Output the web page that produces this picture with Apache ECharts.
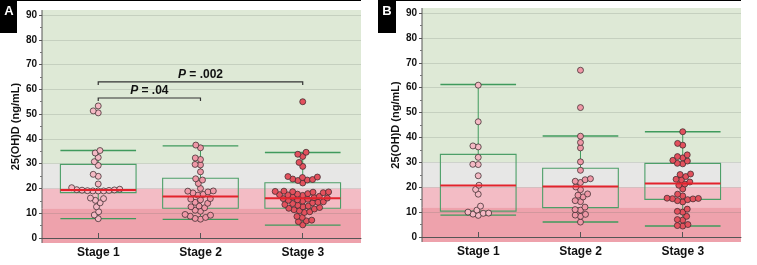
<!DOCTYPE html>
<html>
<head>
<meta charset="utf-8">
<script src="https://cdn.jsdelivr.net/npm/echarts@6.0.0/dist/echarts.min.js"></script>
<style>
  html, body { margin: 0; padding: 0; background: #fff; }
  #chart { width: 757px; height: 265px; }
</style>
</head>
<body>
<div id="chart"></div>
<script>
// values (ng/mL)
const stages = ["Stage 1", "Stage 2", "Stage 3"];

const aStage1 = [53.3, 51.3, 50.5, 35.3, 34.3, 32.5, 30.8, 29.3, 25.7, 24.9, 21.8, 20.3,
  19.7, 19.5, 19.4, 19.3, 19.2, 19.1, 19.0, 19.0, 19.0, 16.1, 15.9, 15.2, 14.2, 12.6, 10.6, 9.3, 7.8];
const aStage2 = [37.5, 36.4, 32.3, 31.7, 29.7, 29.5, 26.7, 23.9, 23.4, 22.0, 20.0, 19.0, 18.9,
  18.6, 18.2, 17.6, 17.3, 15.9, 15.7, 15.4, 14.4, 14.0, 12.9, 12.6, 12.2, 11.2, 10.8, 9.5, 9.2,
  8.8, 8.3, 7.9, 7.6];
const aStage3 = [55.0, 34.6, 33.8, 32.9, 30.5, 28.9, 24.8, 24.6, 24.4, 23.8, 23.6, 23.4, 23.2,
  22.2, 18.9, 18.8, 18.7, 18.6, 18.5, 18.3, 17.9, 17.7, 17.5, 17.4, 17.2, 16.8, 16.5, 16.3, 16.1,
  15.9, 15.6, 15.4, 15.2, 14.9, 14.6, 14.4, 14.2, 13.9, 13.5, 13.2, 12.9, 12.6, 12.3, 12.0, 11.7,
  11.4, 11.0, 10.6, 10.3, 8.7, 8.3, 7.2, 6.9, 6.6, 5.3];

const bStage1 = [61.0, 46.3, 36.6, 36.2, 32.0, 29.2, 29.1, 24.6, 20.8, 19.1, 17.2, 12.4, 10.8,
  10.0, 9.6, 9.5, 9.2, 8.7];
const bStage2 = [67.0, 52.0, 40.5, 38.0, 35.8, 30.2, 26.8, 23.4, 23.0, 22.4, 21.9, 20.1, 19.0,
  17.3, 16.8, 16.1, 14.6, 14.2, 12.0, 11.0, 10.8, 9.1, 8.8, 8.3, 6.0];
const bStage3 = [42.3, 37.6, 36.9, 33.0, 32.3, 31.8, 30.8, 30.5, 29.6, 29.4, 25.3, 25.1, 24.3,
  23.2, 23.0, 22.1, 21.3, 20.8, 19.3, 17.2, 16.5, 15.6, 15.5, 15.4, 15.3, 15.0, 14.6, 14.1, 11.2,
  10.3, 10.0, 8.3, 7.0, 6.8, 5.0, 4.6, 4.4];

// [min, q1, median, q3, max] per stage
const aBox = [[7.8, 18.3, 19.4, 29.7, 35.3], [7.5, 12.0, 16.7, 24.1, 37.2], [5.2, 12.0, 16.0, 22.3, 34.5]];
const bBox = [[8.8, 10.4, 20.7, 33.2, 61.3], [6.0, 11.8, 20.3, 27.6, 40.6], [4.4, 15.1, 21.5, 29.6, 42.3]];

// reference bands (lower, upper)
const bandLow = [-2, 12, 20, 30];
const bandHigh = [12, 20, 30, 92];

// significance brackets, panel A
const bracketFrom = [1, 1];
const bracketTo = [2, 3];
const bracketY = [56.5, 63.0];
const bracketText = [".04", ".002"];

const bandColors = ["#eea2ac", "#f3bcc5", "#e7e7e6", "#dee9d6"];
const dotColors = ["#f4b9c4", "#ef98a7", "#e3515d"];
const font = "'Liberation Sans', Arial, Helvetica, sans-serif";

const grids = [
  { left: 42, top: 15, width: 319, height: 223 },
  { left: 422, top: 13, width: 319, height: 224 }
];
const xMin = 0.45, xMax = 3.57;

// simple beeswarm: put each dot as close to the centre as it can go without overlap
function swarm(values, center, xk, yk, d) {
  const placed = [];
  const out = [];
  const sorted = values.slice().sort((a, b) => a - b);
  sorted.forEach(v => {
    const py = v * yk;
    const blocked = [];
    placed.forEach(p => {
      const dy = Math.abs(p.py - py);
      if (dy < d) {
        const w = Math.sqrt(d * d - dy * dy);
        blocked.push([p.px - w, p.px + w]);
      }
    });
    const cands = [0];
    blocked.forEach(b => cands.push(b[0], b[1]));
    cands.sort((a, b) => Math.abs(a) - Math.abs(b));
    let px = 0;
    for (const c of cands) {
      if (blocked.every(b => c <= b[0] + 1e-6 || c >= b[1] - 1e-6)) { px = c; break; }
    }
    placed.push({ px, py });
    out.push([center + px / xk, v]);
  });
  return out;
}

function bandSeries(i) {
  return {
    type: "custom", xAxisIndex: i, yAxisIndex: i, z: 0, silent: true,
    data: bandLow.map((lo, k) => [k, lo, bandHigh[k]]),
    renderItem: function (params, api) {
      const cs = params.coordSys;
      const top = api.coord([1, api.value(2)])[1];
      const bot = api.coord([1, api.value(1)])[1];
      return {
        type: "group",
        children: [
          { type: "rect", shape: { x: cs.x, y: top, width: cs.width, height: bot - top },
            style: { fill: bandColors[params.dataIndex] } },
          { type: "line", shape: { x1: cs.x, y1: top, x2: cs.x, y2: bot },
            style: { stroke: "#555", lineWidth: 1 } }
        ]
      };
    }
  };
}

function boxSeries(i, box) {
  return {
    type: "custom", xAxisIndex: i, yAxisIndex: i, z: 2, silent: true,
    data: box.map((b, k) => [k + 1].concat(b)),
    renderItem: function (params, api) {
      const s = api.value(0), hw = 0.37;
      const l = api.coord([s - hw, 0])[0], r = api.coord([s + hw, 0])[0];
      const c = api.coord([s, 0])[0];
      const yMin = api.coord([s, api.value(1)])[1];
      const yQ1 = api.coord([s, api.value(2)])[1];
      const yQ3 = api.coord([s, api.value(4)])[1];
      const yMax = api.coord([s, api.value(5)])[1];
      const green = "#3f9a5c";
      return {
        type: "group",
        children: [
          { type: "line", shape: { x1: c, y1: yQ3, x2: c, y2: yMax }, style: { stroke: green, lineWidth: 1 } },
          { type: "line", shape: { x1: c, y1: yQ1, x2: c, y2: yMin }, style: { stroke: green, lineWidth: 1 } },
          { type: "line", shape: { x1: l, y1: yMax, x2: r, y2: yMax }, style: { stroke: green, lineWidth: 1.4 } },
          { type: "line", shape: { x1: l, y1: yMin, x2: r, y2: yMin }, style: { stroke: green, lineWidth: 1.4 } },
          { type: "rect", shape: { x: l, y: yQ3, width: r - l, height: yQ1 - yQ3 },
            style: { fill: "none", stroke: "#4d9f68", lineWidth: 1.1 } }
        ]
      };
    }
  };
}

function medianSeries(i, box) {
  return {
    type: "custom", xAxisIndex: i, yAxisIndex: i, z: 5, silent: true,
    data: box.map((b, k) => [k + 1, b[2]]),
    renderItem: function (params, api) {
      const s = api.value(0), hw = 0.37;
      const p1 = api.coord([s - hw, api.value(1)]);
      const p2 = api.coord([s + hw, api.value(1)]);
      return { type: "line", shape: { x1: p1[0], y1: p1[1], x2: p2[0], y2: p2[1] },
        style: { stroke: "#e3232c", lineWidth: 2 } };
    }
  };
}

function dotSeries(i, lists) {
  const g = grids[i];
  const xk = g.width / (xMax - xMin);
  const yk = g.height / 90;
  return lists.map((vals, k) => ({
    type: "scatter", xAxisIndex: i, yAxisIndex: i, z: 4, silent: true,
    symbolSize: 6,
    itemStyle: { color: dotColors[k], borderColor: "#3b2b2d", borderWidth: 0.75, opacity: 1 },
    data: swarm(vals, k + 1, xk, yk, 5.4)
  }));
}

const bracketSeries = {
  type: "custom", xAxisIndex: 0, yAxisIndex: 0, z: 5, silent: true,
  data: bracketY.map((y, k) => [bracketFrom[k], bracketTo[k], y]),
  renderItem: function (params, api) {
    const p1 = api.coord([api.value(0), api.value(2)]);
    const p2 = api.coord([api.value(1), api.value(2)]);
    return {
      type: "group",
      children: [
        { type: "polyline",
          shape: { points: [[p1[0], p1[1] + 3], [p1[0], p1[1]], [p2[0], p2[1]], [p2[0], p2[1] + 3]] },
          style: { stroke: "#333", lineWidth: 1.2, fill: "none" } },
        { type: "text", x: (p1[0] + p2[0]) / 2, y: p1[1] - 1,
          style: {
            text: "{i|P} = " + bracketText[params.dataIndex],
            align: "center", verticalAlign: "bottom",
            font: "bold 12px " + font, fill: "#111",
            rich: { i: { fontStyle: "italic", fontWeight: "bold", fontSize: 12, fontFamily: font } }
          } }
      ]
    };
  }
};

function xAxis(i) {
  return {
    type: "value", gridIndex: i, min: xMin, max: xMax, offset: 5, z: 1,
    axisLine: { lineStyle: { color: "#555", width: 1 } },
    axisTick: { customValues: [1, 2, 3], inside: true, length: 5, lineStyle: { color: "#555" } },
    axisLabel: {
      customValues: [1, 2, 3], margin: 4, color: "#111", fontSize: 12, fontWeight: "bold", fontFamily: font,
      formatter: v => stages[Math.round(v) - 1]
    },
    splitLine: { show: false }
  };
}

function yAxis(i) {
  return {
    type: "value", gridIndex: i, min: 0, max: 90, interval: 10, z: 1,
    name: "25(OH)D (ng/mL)", nameLocation: "middle", nameGap: 21,
    nameTextStyle: { fontSize: 11, fontWeight: "bold", color: "#111", fontFamily: font },
    axisLine: { show: false },
    axisTick: { show: true, length: 3, lineStyle: { color: "#555" } },
    minorTick: { show: true, splitNumber: 2, length: 2, lineStyle: { color: "#777" } },
    axisLabel: { margin: 5, color: "#111", fontSize: 10, fontWeight: "bold", fontFamily: font },
    splitLine: { lineStyle: { color: "rgba(100,110,100,0.2)", width: 1 } }
  };
}

const chart = echarts.init(document.getElementById("chart"), null, { renderer: "canvas" });
chart.setOption({
  animation: false,
  backgroundColor: "#fff",
  grid: grids,
  xAxis: [xAxis(0), xAxis(1)],
  yAxis: [yAxis(0), yAxis(1)],
  series: [
    bandSeries(0), bandSeries(1),
    boxSeries(0, aBox), boxSeries(1, bBox)
  ].concat(dotSeries(0, [aStage1, aStage2, aStage3]))
   .concat(dotSeries(1, [bStage1, bStage2, bStage3]))
   .concat([medianSeries(0, aBox), medianSeries(1, bBox), bracketSeries]),
  graphic: [
    { type: "rect", shape: { x: 0, y: 0, width: 17, height: 33 }, style: { fill: "#000" } },
    { type: "text", x: 9, y: 11, style: { text: "A", fill: "#fff", font: "bold 13px " + font, align: "center", verticalAlign: "middle" } },
    { type: "line", shape: { x1: 17, y1: 0.5, x2: 361, y2: 0.5 }, style: { stroke: "#000", lineWidth: 1 } },
    { type: "rect", shape: { x: 378, y: 0, width: 18, height: 33 }, style: { fill: "#000" } },
    { type: "text", x: 387, y: 11, style: { text: "B", fill: "#fff", font: "bold 13px " + font, align: "center", verticalAlign: "middle" } },
    { type: "line", shape: { x1: 396, y1: 0.5, x2: 741, y2: 0.5 }, style: { stroke: "#000", lineWidth: 1 } }
  ]
});
</script>
</body>
</html>
